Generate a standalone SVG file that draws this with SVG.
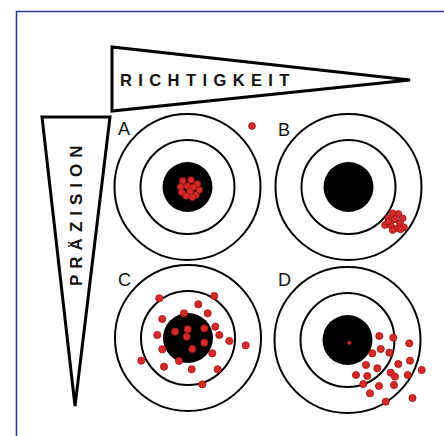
<svg xmlns="http://www.w3.org/2000/svg" width="444" height="436" viewBox="0 0 444 436">
<style>
.pen{fill:#fff;stroke:#000;stroke-width:3;stroke-linejoin:miter}
.ring{fill:none;stroke:#000;stroke-width:2}
.bull{fill:#000}
.hit{fill:#d42a2a;stroke:#9e1515;stroke-width:0.8}
.lab{font-family:"Liberation Sans",Arial,sans-serif;font-size:18px;fill:#111}
.ttl{font-family:"Liberation Sans",Arial,sans-serif;font-weight:bold;fill:#111}
</style>
<defs>
<g id="target">
<circle class="ring" r="73"/>
<circle class="ring" r="47"/>
<circle class="bull" r="25"/>
</g>
</defs>
<rect width="444" height="436" fill="#fff"/>
<path d="M16.5,437 V11.5 H445" fill="none" stroke="#2b3b93" stroke-width="1.6"/>

<g id="richtigkeit">
<polygon class="pen" points="112,47 112,111 410,80"/>
<text class="ttl" x="120" y="86" font-size="16.5" letter-spacing="6.4">RICHTIGKEIT</text>
</g>

<g id="praezision">
<polygon class="pen" points="42,117 110,117 75,406"/>
<text class="ttl" transform="translate(82,286) rotate(-90)" font-size="17" letter-spacing="6">PRÄZISION</text>
</g>

<g id="targetA">
<use href="#target" x="187.5" y="187"/>
<text class="lab" x="118" y="135">A</text>
<circle class="hit" cx="252" cy="126" r="3.4"/>
<circle class="hit" cx="182.7" cy="180.7" r="3.3"/>
<circle class="hit" cx="191" cy="180" r="3.3"/>
<circle class="hit" cx="197.3" cy="184" r="3.3"/>
<circle class="hit" cx="180.7" cy="186.7" r="3.3"/>
<circle class="hit" cx="187.3" cy="186" r="3.3"/>
<circle class="hit" cx="193.3" cy="187.3" r="3.3"/>
<circle class="hit" cx="199.3" cy="190" r="3.3"/>
<circle class="hit" cx="181.7" cy="192.3" r="3.3"/>
<circle class="hit" cx="190" cy="191.7" r="3.3"/>
<circle class="hit" cx="196" cy="195" r="3.3"/>
<circle class="hit" cx="186" cy="196" r="3.3"/>
<circle class="hit" cx="192.3" cy="197.3" r="3.3"/>
</g>

<g id="targetB">
<use href="#target" x="348.5" y="187"/>
<text class="lab" x="278" y="136">B</text>
<circle class="hit" cx="392.7" cy="213.3" r="3.4"/>
<circle class="hit" cx="398.3" cy="214" r="3.4"/>
<circle class="hit" cx="402.7" cy="218.3" r="3.4"/>
<circle class="hit" cx="388.3" cy="218.3" r="3.4"/>
<circle class="hit" cx="395" cy="219.3" r="3.4"/>
<circle class="hit" cx="400" cy="223.3" r="3.4"/>
<circle class="hit" cx="404" cy="227.3" r="3.4"/>
<circle class="hit" cx="385" cy="225" r="3.4"/>
<circle class="hit" cx="390.7" cy="225" r="3.4"/>
<circle class="hit" cx="396.7" cy="228.3" r="3.4"/>
<circle class="hit" cx="392.7" cy="230" r="3.4"/>
<circle class="hit" cx="400.7" cy="229.3" r="3.4"/>
<circle class="hit" cx="388.3" cy="221.7" r="3.4"/>
</g>

<g id="targetC">
<use href="#target" x="188" y="338"/>
<text class="lab" x="118" y="286">C</text>
<circle class="hit" cx="159.3" cy="298.3" r="3.6"/>
<circle class="hit" cx="214.3" cy="296" r="3.6"/>
<circle class="hit" cx="198.3" cy="304.3" r="3.6"/>
<circle class="hit" cx="184" cy="313.3" r="3.6"/>
<circle class="hit" cx="207.7" cy="313.3" r="3.6"/>
<circle class="hit" cx="162.3" cy="319" r="3.6"/>
<circle class="hit" cx="175" cy="331.7" r="3.6"/>
<circle class="hit" cx="187.7" cy="329.3" r="3.6"/>
<circle class="hit" cx="204.3" cy="328.3" r="3.6"/>
<circle class="hit" cx="215.3" cy="326.7" r="3.6"/>
<circle class="hit" cx="157.3" cy="335" r="3.6"/>
<circle class="hit" cx="186.7" cy="336.7" r="3.6"/>
<circle class="hit" cx="219.3" cy="335" r="3.6"/>
<circle class="hit" cx="204.3" cy="342.7" r="3.6"/>
<circle class="hit" cx="229.3" cy="341" r="3.6"/>
<circle class="hit" cx="245.7" cy="345.3" r="3.6"/>
<circle class="hit" cx="162.3" cy="349.3" r="3.6"/>
<circle class="hit" cx="192.3" cy="349" r="3.6"/>
<circle class="hit" cx="212.3" cy="353.3" r="3.6"/>
<circle class="hit" cx="141.3" cy="360.7" r="3.6"/>
<circle class="hit" cx="179" cy="361" r="3.6"/>
<circle class="hit" cx="164" cy="366.7" r="3.6"/>
<circle class="hit" cx="191.7" cy="369.3" r="3.6"/>
<circle class="hit" cx="217.7" cy="369.3" r="3.6"/>
<circle class="hit" cx="202.3" cy="384.3" r="3.6"/>
</g>

<g id="targetD">
<use href="#target" x="347.5" y="340"/>
<text class="lab" x="278" y="286">D</text>
<circle class="hit" cx="349.3" cy="342.7" r="1.8"/>
<circle class="hit" cx="379.3" cy="336" r="3.6"/>
<circle class="hit" cx="393.3" cy="337.7" r="3.6"/>
<circle class="hit" cx="409.3" cy="343.3" r="3.6"/>
<circle class="hit" cx="372.3" cy="353.3" r="3.6"/>
<circle class="hit" cx="380.7" cy="349" r="3.6"/>
<circle class="hit" cx="389.3" cy="352.7" r="3.6"/>
<circle class="hit" cx="366" cy="365" r="3.6"/>
<circle class="hit" cx="377.3" cy="368.3" r="3.6"/>
<circle class="hit" cx="398.3" cy="364" r="3.6"/>
<circle class="hit" cx="410" cy="360.7" r="3.6"/>
<circle class="hit" cx="421.7" cy="370" r="3.6"/>
<circle class="hit" cx="356" cy="375" r="3.6"/>
<circle class="hit" cx="367.3" cy="376" r="3.6"/>
<circle class="hit" cx="390.7" cy="372.7" r="3.6"/>
<circle class="hit" cx="395" cy="376.7" r="3.6"/>
<circle class="hit" cx="407.7" cy="375" r="3.6"/>
<circle class="hit" cx="363.3" cy="384" r="3.6"/>
<circle class="hit" cx="379" cy="386" r="3.6"/>
<circle class="hit" cx="394" cy="385" r="3.6"/>
<circle class="hit" cx="370" cy="393.3" r="3.6"/>
<circle class="hit" cx="412.5" cy="398" r="3.6"/>
<circle class="hit" cx="385.7" cy="401.7" r="3.6"/>
</g>
</svg>
